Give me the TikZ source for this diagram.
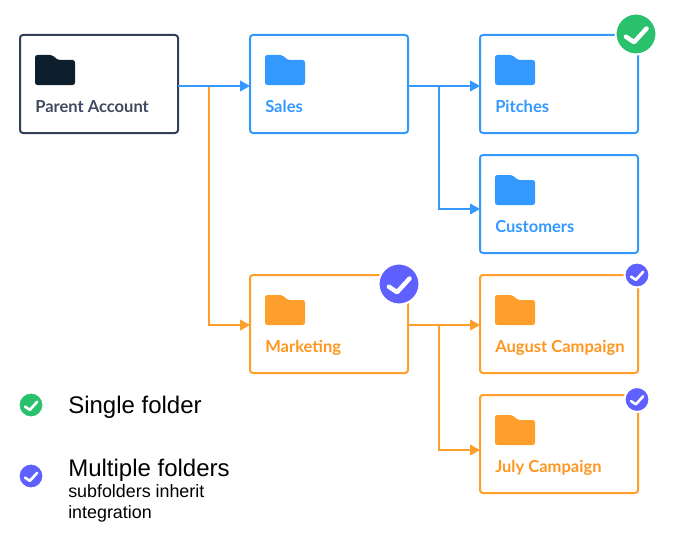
\documentclass[tikz,border=0pt]{standalone}
\usepackage{fontspec}
\setmainfont{Liberation Sans}
\newfontfamily\boxfont{Lato}
\usetikzlibrary{arrows.meta}
\definecolor{blueline}{HTML}{3399FF}
\definecolor{orangeline}{HTML}{FF9F2B}
\definecolor{orangetext}{HTML}{FF9620}
\definecolor{darkline}{HTML}{333F58}
\definecolor{darktext}{HTML}{3F4A60}
\definecolor{darkfolder}{HTML}{0D1F2D}
\definecolor{greencheck}{HTML}{2AC16D}
\definecolor{purplecheck}{HTML}{5E60FF}
\tikzset{
  cellbox/.style={shape=rectangle,draw=#1,line width=1.5pt,rounded corners=2.2pt,outer sep=0pt,minimum width=118.5pt,minimum height=73.5pt},
  celltext/.style={anchor=base west,inner sep=0pt,font=\boxfont\bfseries\fontsize{12.4}{14}\selectfont},
  legendtext/.style={anchor=base west,inner sep=0pt,font=\fontsize{#1}{#1}\selectfont},
  linkarrow/.style={line width=1.5pt,draw=#1,-{Triangle[length=7.5pt,width=8pt]}}
}
% box with folder and label: name, left, top, line colour, folder colour, text colour, label
\newcommand{\cellfolder}[7]{
  \node[cellbox=#4] (#1) at ( #2 + 79 , #3 + 49 ){};
  \fill[#5,rounded corners=1.8pt] ( #2 + 15 , #3 + 50 ) -- ( #2 + 15 , #3 + 20 ) -- ( #2 + 32 , #3 + 20 ) -- ( #2 + 38 , #3 + 25 ) -- ( #2 + 55 , #3 + 25 ) -- ( #2 + 55 , #3 + 50 ) -- cycle;
  \node[celltext,text=#6] (#1text) at ( #2 + 15 , #3 + 77 ){#7};
}
% round check mark: name, x, y, radius, colour
\newcommand{\cellcheck}[5]{
  \node[shape=circle,draw=white,line width=1.5pt,fill=#5,inner sep=0pt,minimum size=#4*1.5pt+1.5pt] (#1) at ( #2 , #3 ){};
  \draw[white,line width=#4*0.17pt,line cap=round,line join=round] ( #2 - #4*0.52 , #3 + #4*0.14 ) -- ( #2 - #4*0.1 , #3 + #4*0.42 ) -- ( #2 + #4*0.54 , #3 - #4*0.28 );
}
\begin{document}
\begin{tikzpicture}[x=0.75pt,y=-0.75pt]
    \useasboundingbox ( 0 , 0 ) rectangle ( 680 , 535 );
    % row1
    \cellfolder{parent}{20}{35}{darkline}{darkfolder}{darktext}{Parent Account}
    \cellfolder{sales}{250}{35}{blueline}{blueline}{blueline}{Sales}
    \cellfolder{pitches}{480}{35}{blueline}{blueline}{blueline}{Pitches}
    % row2
    \cellfolder{customers}{480}{155}{blueline}{blueline}{blueline}{Customers}
    % row3
    \cellfolder{marketing}{250}{275}{orangeline}{orangeline}{orangetext}{Marketing}
    \cellfolder{august}{480}{275}{orangeline}{orangeline}{orangetext}{August Campaign}
    % row4
    \cellfolder{july}{480}{395}{orangeline}{orangeline}{orangetext}{July Campaign}
    % links
    \coordinate (parentfork) at ( 209 , 86 );
    \coordinate (salesfork) at ( 439 , 86 );
    \coordinate (marketingfork) at ( 439 , 325 );
    \draw[linkarrow=orangeline] (parentfork) |- ([yshift=-0.75pt]marketing.west);
    \draw[linkarrow=blueline] ([yshift=-1.5pt]parent.east) -- ([yshift=-1.5pt]sales.west);
    \draw[linkarrow=blueline] ([yshift=-1.5pt]sales.east) -- ([yshift=-1.5pt]pitches.west);
    \draw[linkarrow=blueline] (salesfork) |- ([yshift=-3.75pt]customers.west);
    \draw[linkarrow=orangeline] ([yshift=-0.75pt]marketing.east) -- ([yshift=-0.75pt]august.west);
    \draw[linkarrow=orangeline] (marketingfork) |- ([yshift=-4.5pt]july.west);
    % checks
    \cellcheck{pitchescheck}{636}{34}{19.5}{greencheck}
    \cellcheck{marketingcheck}{399}{284}{19.5}{purplecheck}
    \cellcheck{augustcheck}{637}{275}{11.5}{purplecheck}
    \cellcheck{julycheck}{637}{399.5}{11.5}{purplecheck}
    % legend
    \cellcheck{singlecheck}{31}{405}{11.5}{greencheck}
    \cellcheck{multiplecheck}{31}{476}{11.5}{purplecheck}
    \node[legendtext=18] (singletext) at ( 68 , 413 ){Single folder};
    \node[legendtext=18] (multipletext) at ( 68 , 476 ){Multiple folders};
    \node[legendtext=13.4] (subtext) at ( 68 , 497 ){subfolders inherit};
    \node[legendtext=13.4] (integrationtext) at ( 68 , 518 ){integration};
\end{tikzpicture}
\end{document}
